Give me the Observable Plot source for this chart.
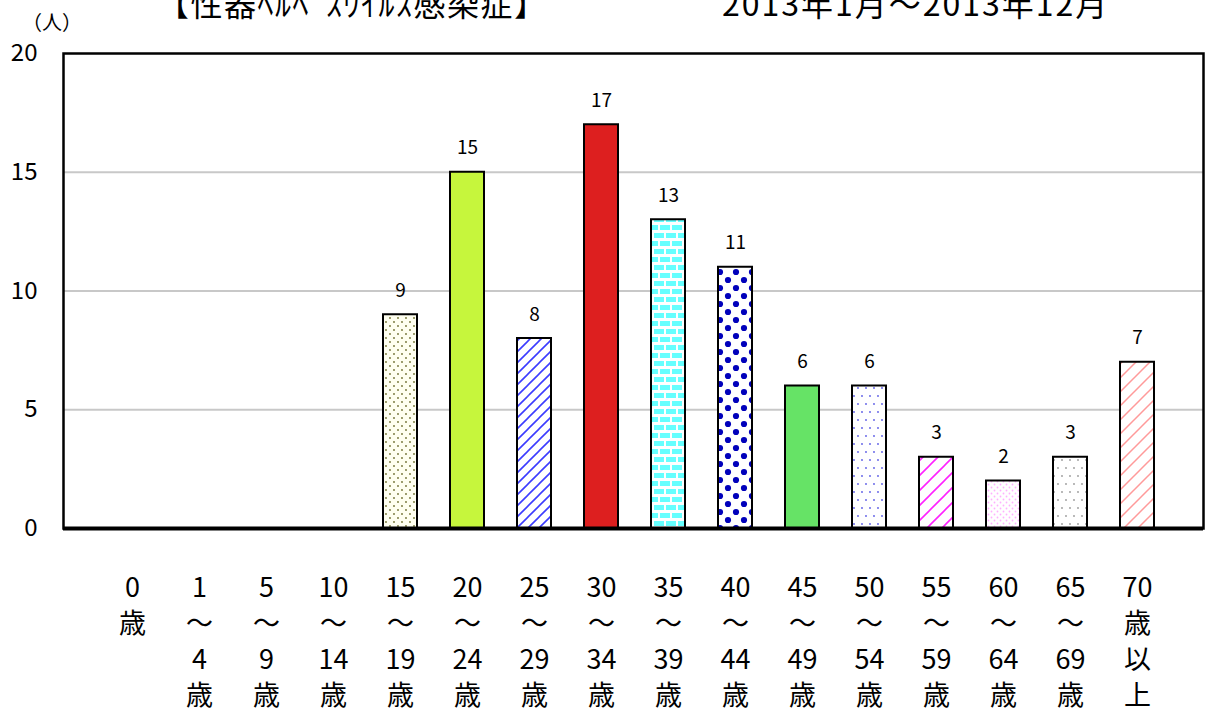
<!DOCTYPE html>
<html>
<head>
<meta charset="utf-8">
<script src="https://cdn.jsdelivr.net/npm/d3@7"></script>
<script src="https://cdn.jsdelivr.net/npm/@observablehq/plot@0.6"></script>
<style>
  body { margin: 0; background: #fff; }
  #wrap { position: relative; width: 1205px; height: 713px; overflow: hidden; background: #fff; }
  .ttl { position: absolute; white-space: nowrap; line-height: 1; font-family: "Noto Sans CJK JP", sans-serif; color: #000; z-index: 2; }
  #chart { position: absolute; left: 0; top: 0; }
</style>
</head>
<body>
<div id="wrap">
  <div id="chart"></div>
  <div id="title" class="ttl" style="left:157px; top:-14px; font-size:32px; letter-spacing:1.5px;"></div>
  <div id="subtitle" class="ttl" style="left:722px; top:-14px; font-size:32px; letter-spacing:2px;"></div>
  <div id="unit" class="ttl" style="left:22px; top:12px; font-size:20px;"></div>
</div>
<script>
// ---- data ----
const titleText = "【性器ﾍﾙﾍﾟｽｳｲﾙｽ感染症】";
const subtitleText = "2013年1月～2013年12月";
const unitText = "（人）";
const categories = ["0歳","1～4歳","5～9歳","10～14歳","15～19歳","20～24歳","25～29歳","30～34歳","35～39歳","40～44歳","45～49歳","50～54歳","55～59歳","60～64歳","65～69歳","70歳以上"];
const values = [0, 0, 0, 0, 9, 15, 8, 17, 13, 11, 6, 6, 3, 2, 3, 7];
const labelLines = [
  ["0","歳"], ["1","～","4","歳"], ["5","～","9","歳"], ["10","～","14","歳"],
  ["15","～","19","歳"], ["20","～","24","歳"], ["25","～","29","歳"], ["30","～","34","歳"],
  ["35","～","39","歳"], ["40","～","44","歳"], ["45","～","49","歳"], ["50","～","54","歳"],
  ["55","～","59","歳"], ["60","～","64","歳"], ["65","～","69","歳"], ["70","歳","以","上"]
];
const yTicks = [0, 5, 10, 15, 20];
const gridValues = [5, 10, 15];

// ---- styles (fills per category) ----
const fills = [
  "none", "none", "none", "none",
  "url(#p-olive)", "#c6f63c", "url(#p-blue-stripe)", "#dd1f1f",
  "url(#p-brick)", "url(#p-bigdot)", "#66e366", "url(#p-bluedot)",
  "url(#p-magenta-stripe)", "url(#p-pinkdot)", "url(#p-graydot)", "url(#p-salmon-stripe)"
];

document.getElementById("title").textContent = titleText;
document.getElementById("subtitle").textContent = subtitleText;
document.getElementById("unit").textContent = unitText;

const data = categories.map((c, i) => ({cat: c, value: values[i], fill: fills[i]}));
const labelData = categories.map((c, i) => ({cat: c, t: labelLines[i].join("\n")}));
const font = "'Noto Sans CJK JP', sans-serif";

const plot = Plot.plot({
  width: 1205,
  height: 713,
  marginTop: 53,
  marginBottom: 185,
  marginLeft: 63,
  marginRight: 2,
  style: {fontFamily: font, fontSize: "24px", background: "transparent", color: "#000"},
  x: {domain: categories, axis: null, paddingInner: 0.5, paddingOuter: 0.25, insetLeft: 34, insetRight: 32},
  y: {domain: [0, 20], ticks: yTicks, tickSize: 0, tickPadding: 26, label: null},
  color: {type: "identity"},
  marks: [
    Plot.ruleY(gridValues, {stroke: "#c8c8c8", strokeWidth: 2}),
    Plot.barY(data.filter(d => d.value > 0), {x: "cat", y: "value", fill: d => d.fill, stroke: "#000", strokeWidth: 2}),
    Plot.text(data.filter(d => d.value > 0), {x: "cat", y: "value", text: d => String(d.value), dy: -24, fontSize: 19, fill: "#000"}),
    Plot.ruleY([0], {stroke: "#000", strokeWidth: 4}),
    Plot.frame({stroke: "#000", strokeWidth: 2.5}),
    Plot.text(labelData, {x: "cat", frameAnchor: "bottom", dy: 43, text: "t", fontSize: 27, lineAnchor: "top", lineHeight: 36 / 27, fill: "#000"})
  ]
});
document.getElementById("chart").appendChild(plot);

// ---- patterns ----
const svg = d3.select(plot.tagName.toLowerCase() === "svg" ? plot : plot.querySelector("svg"));
const defs = svg.insert("defs", ":first-child");
function pat(id, w, h, bg) {
  const p = defs.append("pattern").attr("id", id).attr("patternUnits", "userSpaceOnUse").attr("width", w).attr("height", h);
  p.append("rect").attr("width", w).attr("height", h).attr("fill", bg);
  return p;
}
function stripes(id, s, color, sw) {
  const p = pat(id, s, s, "#fff");
  p.append("path").attr("d", `M${-s/2},${s/2} L${s/2},${-s/2} M0,${s} L${s},0 M${s/2},${s*1.5} L${s*1.5},${s/2}`)
    .attr("stroke", color).attr("stroke-width", sw).attr("fill", "none");
}
function dots(id, w, h, bg, color, r, pts) {
  const p = pat(id, w, h, bg);
  pts.forEach(([x, y]) => p.append("circle").attr("cx", x).attr("cy", y).attr("r", r).attr("fill", color));
}
dots("p-olive", 8, 8, "#fffff0", "#6f6f30", 0.9, [[2, 2], [6, 6]]);
stripes("p-blue-stripe", 11, "#3c3cff", 1.6);
stripes("p-magenta-stripe", 15, "#ff22ff", 1.6);
stripes("p-salmon-stripe", 14, "#ff9a9a", 1.5);
(function() {
  const p = pat("p-brick", 12, 16, "#fff");
  [[0, 1, 10, 5], [6, 9, 10, 5], [-6, 9, 10, 5]].forEach(([x, y, w, h]) =>
    p.append("rect").attr("x", x).attr("y", y).attr("width", w).attr("height", h).attr("fill", "#66ffff"));
})();
dots("p-bigdot", 16, 16, "#fff", "#0000bb", 3.1, [[0, 0], [16, 0], [0, 16], [16, 16], [8, 8]]);
dots("p-bluedot", 8, 16, "#fff", "#5a5ae6", 0.9, [[2, 4], [6, 12]]);
dots("p-pinkdot", 6, 6, "#fff", "#ffb0ff", 0.9, [[1.5, 1.5], [4.5, 4.5]]);
dots("p-graydot", 8, 16, "#fff", "#999999", 0.9, [[2, 4], [6, 12]]);
</script>
</body>
</html>
